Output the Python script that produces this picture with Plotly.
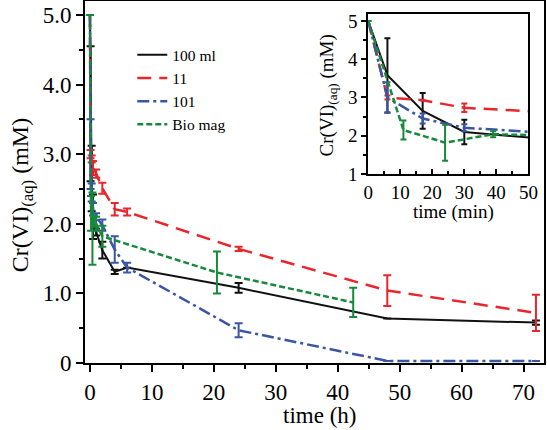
import plotly.graph_objects as go

# ---- main chart data (time in hours) ----
t_black_h = [0, 0.1, 0.28, 0.5, 1, 2, 4, 6, 24, 48, 72]
c_black = [5.0, 3.58, 2.65, 2.1, 1.88, 1.62, 1.31, 1.37, 1.08, 0.64, 0.58]
e_black = [0, 0.97, 0.47, 0.32, 0.05, 0.12, 0.03, 0, 0.07, 0, 0.03]

t_red_h = [0, 0.1, 0.28, 0.5, 1, 2, 4, 6, 24, 48, 72]
c_red = [5.0, 3.0, 2.93, 2.8, 2.72, 2.51, 2.21, 2.17, 1.64, 1.04, 0.72]
e_red = [0, 0.06, 0.05, 0.1, 0.06, 0.08, 0.09, 0.05, 0.03, 0.22, 0.26]

t_blue_h = [0, 0.1, 0.28, 0.5, 1, 2, 4, 6, 24, 48, 72]
c_blue = [5.0, 3.0, 2.45, 2.21, 2.1, 1.98, 1.63, 1.37, 0.47, 0.03, 0.03]
e_blue = [0, 0.5, 0.13, 0.09, 0.05, 0.08, 0.19, 0.07, 0.1, 0, 0]

t_green_h = [0, 0.18, 0.4, 0.65, 1, 2, 20.5, 42.5]
c_green = [5.0, 2.15, 1.93, 2.04, 2.0, 1.82, 1.3, 0.87]
e_green = [0, 0.25, 0.52, 0.08, 0.1, 0.15, 0.3, 0.21]

# ---- inset data (time in minutes) ----
ti_black = [0, 6, 17, 30, 60]
ci_black = [5.0, 3.58, 2.65, 2.1, 1.88]
ei_black = [0, 0.97, 0.47, 0.32, 0]

ti_red = [0, 6, 17, 30, 60]
ci_red = [5.0, 3.0, 2.93, 2.73, 2.6]
ei_red = [0, 0.05, 0, 0.11, 0]

ti_blue = [0, 6, 17, 30, 60]
ci_blue = [5.0, 3.0, 2.45, 2.21, 2.05]
ei_blue = [0, 0.4, 0.13, 0.09, 0]

ti_green = [0, 11, 24, 39, 60]
ci_green = [5.0, 2.15, 1.82, 2.04, 2.0]
ei_green = [0, 0.25, 0.47, 0.08, 0]

names = ["100 ml", "11", "101", "Bio mag"]
main_x_ticks = [0, 10, 20, 30, 40, 50, 60, 70]
main_y_ticks = [0, 1, 2, 3, 4, 5]
main_y_labels = ["0", "1.0", "2.0", "3.0", "4.0", "5.0"]
inset_x_ticks = [0, 10, 20, 30, 40, 50]
inset_y_ticks = [1, 2, 3, 4, 5]

BLACK = "#111111"
RED = "#e8262b"
BLUE = "#3a55a4"
GREEN = "#17893c"
FONT = "Liberation Serif"

styles = [
    (BLACK, "solid", 2),
    (RED, "14px,8px", 2.5),
    (BLUE, "12px,4px,3px,4px", 2.5),
    (GREEN, "6px,3px", 2.5),
]

main_sets = [
    (t_black_h, c_black, e_black),
    (t_red_h, c_red, e_red),
    (t_blue_h, c_blue, e_blue),
    (t_green_h, c_green, e_green),
]
inset_sets = [
    (ti_black, ci_black, ei_black),
    (ti_red, ci_red, ei_red),
    (ti_blue, ci_blue, ei_blue),
    (ti_green, ci_green, ei_green),
]

fig = go.Figure()
for (x, y, e), (col, dash, w), nm in zip(main_sets, styles, names):
    fig.add_trace(go.Scatter(
        x=x, y=y, mode="lines", name=nm,
        line=dict(color=col, dash=dash, width=w),
        error_y=dict(type="data", array=e, color=col, thickness=2, width=4),
        xaxis="x", yaxis="y",
    ))
for (x, y, e), (col, dash, w) in zip(inset_sets, styles):
    fig.add_trace(go.Scatter(
        x=x, y=y, mode="lines", showlegend=False,
        line=dict(color=col, dash=dash, width=w),
        error_y=dict(type="data", array=e, color=col, thickness=2, width=3),
        xaxis="x2", yaxis="y2",
    ))

axis_common = dict(showline=True, linecolor="black", linewidth=2, mirror=True,
                   showgrid=False, zeroline=False, tickcolor="black", tickwidth=2,
                   automargin=False)

fig.update_layout(
    width=547, height=430,
    margin=dict(l=85, r=3, t=1, b=67),
    paper_bgcolor="white", plot_bgcolor="white",
    font=dict(family=FONT, color="black"),
    xaxis=dict(**axis_common, range=[-0.8, 73.3], tickvals=main_x_ticks,
               ticks="outside", ticklen=7, tickfont=dict(size=23),
               minor=dict(dtick=5, tick0=0, ticks="outside", ticklen=4,
                          tickcolor="black", tickwidth=2),
               domain=[0, 1]),
    yaxis=dict(**axis_common, range=[0, 5.2], tickvals=main_y_ticks,
               ticktext=main_y_labels, ticks="outside", ticklen=7,
               tickfont=dict(size=23),
               minor=dict(dtick=0.5, tick0=0, ticks="outside", ticklen=4,
                          tickcolor="black", tickwidth=2),
               domain=[0, 1]),
    xaxis2=dict(**axis_common, range=[0, 50], tickvals=inset_x_ticks,
                ticks="inside", ticklen=5, tickfont=dict(size=19),
                minor=dict(dtick=5, tick0=0, ticks="inside", ticklen=3,
                           tickcolor="black", tickwidth=2),
                domain=[0.617, 0.966], anchor="y2"),
    yaxis2=dict(**axis_common, range=[1, 5.18], tickvals=inset_y_ticks,
                ticks="outside", ticklen=5, tickfont=dict(size=19),
                minor=dict(dtick=0.5, tick0=1, ticks="outside", ticklen=3,
                           tickcolor="black", tickwidth=2),
                domain=[0.522, 0.964], anchor="x2"),
    legend=dict(x=0.103, y=0.897, xanchor="left", yanchor="top",
                bgcolor="rgba(0,0,0,0)", font=dict(size=15.5),
                tracegroupgap=0),
    showlegend=True,
    annotations=[
        dict(text="time (h)", x=0.51, y=-0.145, xref="paper", yref="paper",
             showarrow=False, font=dict(size=23), xanchor="center", yanchor="middle"),
        dict(text="Cr(VI)<sub>(aq)</sub> (mM)", x=-0.137, y=0.464, xref="paper",
             yref="paper", showarrow=False, textangle=-90, font=dict(size=24),
             xanchor="center", yanchor="middle"),
        dict(text="time (min)", x=0.802, y=0.416, xref="paper", yref="paper",
             showarrow=False, font=dict(size=19), xanchor="center", yanchor="middle"),
        dict(text="Cr(VI)<sub>(aq)</sub> (mM)", x=0.530, y=0.74, xref="paper",
             yref="paper", showarrow=False, textangle=-90, font=dict(size=19),
             xanchor="center", yanchor="middle"),
    ],
)

fig.write_html(
    "out.html",
    config={"displayModeBar": False},
    post_script="document.body.style.margin='0';document.body.style.padding='0';",
)
